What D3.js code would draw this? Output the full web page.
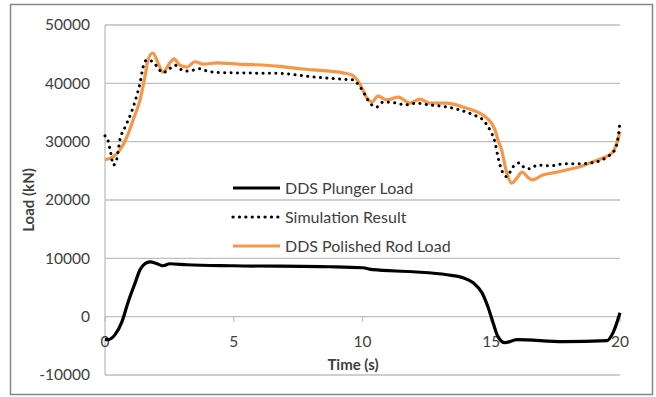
<!doctype html>
<html>
<head>
  <meta charset="utf8"/>
  <style>
    body { margin: 0; background: #fff; }
    text { font-family: Lato, 'Open Sans', sans-serif; fill: #404040; }
  </style>
</head>
<body>
  <svg width='656' height='397'></svg>
  <script src="https://d3js.org/d3.v7.min.js"></script>
  <script>

    // values (time in s, load in kN)
    var plungerT = [0, 0.12, 0.39, 0.66, 0.89, 1.17, 1.36, 1.55, 1.75, 2.02, 2.25, 2.52, 3.18, 4.97,
                    8.74, 10.0, 10.4, 11.96, 13.28, 13.9, 14.3, 14.64, 14.87, 15.07, 15.26, 15.53,
                    16.0, 17.8, 19.5, 19.73, 20];
    var plungerLoad = [-3900, -3950, -3080, -860, 2400, 5800, 8050, 9070, 9400, 9070, 8730, 9070, 8900, 8730,
                       8560, 8390, 8050, 7700, 7190, 6680, 5800, 4100, 1700, -1030, -3420, -4450,
                       -3940, -4280, -4100, -2740, 680];

    var simT = [0, 0.07, 0.2, 0.33, 0.45, 0.58, 0.78, 1.03, 1.22, 1.36, 1.48, 1.62, 1.86, 2.06, 2.25, 2.45,
                2.72, 2.98, 3.22, 3.69, 3.96, 4.27, 4.97, 6.8, 8.08, 9.24, 9.63, 9.9, 10.1, 10.29, 10.56,
                10.8, 11.34, 11.65, 12.1, 12.6, 13.28, 13.8, 14.3, 14.68, 14.95, 15.15, 15.26, 15.4,
                15.6, 15.73, 15.85, 16.1, 16.3, 16.5, 16.8, 17.3, 17.8, 18.45, 19.1, 19.5, 19.8, 19.94, 20];
    var simLoad = [31000, 30800, 28600, 26000, 26900, 30300, 32500, 35100, 37700, 40000, 42800, 44000, 43700,
                   42600, 41800, 42300, 43100, 42300, 42100, 42500, 42100, 41900, 41800, 41700, 41100, 40700,
                   40600, 39400, 38000, 36600, 35950, 36800, 36600, 36300, 36600, 36300, 35950, 35400, 34600,
                   33700, 32000, 29800, 27400, 25150, 24000, 24800, 25700, 26350, 25500, 25350, 26000, 25850,
                   26200, 26200, 26550, 27400, 28600, 31150, 33400];

    var rodT = [0, 0.31, 0.58, 0.85, 1.09, 1.36, 1.55, 1.67, 1.86, 2.06, 2.25, 2.52, 2.68, 2.91, 3.18, 3.5,
                3.81, 4.35, 5.17, 6.8, 7.18, 8.08, 9.24, 9.6, 9.79, 9.98, 10.17, 10.37, 10.6, 10.95, 11.38,
                11.84, 12.23, 12.6, 13.28, 13.9, 14.45, 14.83, 15.15, 15.26, 15.4, 15.6, 15.8, 16.0, 16.2,
                16.4, 16.6, 17.0, 17.4, 17.9, 18.45, 18.95, 19.34, 19.7, 19.88, 20];
    var rodLoad = [26900, 27400, 28600, 30800, 33700, 37150, 41100, 44000, 45200, 43500, 41900, 43500, 44200,
                   43100, 42800, 43700, 43300, 43500, 43300, 42900, 42700, 42300, 41800, 41400, 40600, 39200,
                   37500, 36800, 37800, 37150, 37650, 36600, 37300, 36600, 36600, 35950, 35100, 34050, 32000,
                   30300, 28600, 24650, 22900, 23800, 24800, 24000, 23450, 24300, 24650, 25150, 25700, 26550,
                   27200, 28100, 29800, 31700];

    var xTicks = [0, 5, 10, 15, 20];
    var yTicks = [-10000, 0, 10000, 20000, 30000, 40000, 50000];

    var svg = d3.select('svg');

    // outer chart frame
    svg.append('rect')
       .attr('x', 10.5).attr('y', 4.5)
       .attr('width', 642).attr('height', 390)
       .attr('fill', '#fff')
       .attr('stroke', '#868686')
       .attr('stroke-width', 1.5);

    var x = d3.scaleLinear().domain([0, 20]).range([105, 620]);
    var y = d3.scaleLinear().domain([-10000, 50000]).range([375, 25]);

    // gridlines
    svg.append('g')
       .selectAll('line')
       .data(yTicks)
       .join('line')
         .attr('x1', x(0)).attr('x2', x(20))
         .attr('y1', function(d) { return y(d); })
         .attr('y2', function(d) { return y(d); })
         .attr('stroke', '#bfbfbf')
         .attr('stroke-width', 1.3);

    // y axis line
    svg.append('line')
       .attr('x1', x(0)).attr('x2', x(0))
       .attr('y1', y(50000)).attr('y2', y(-10000))
       .attr('stroke', '#bfbfbf')
       .attr('stroke-width', 1.3);

    // y tick labels
    svg.append('g')
       .selectAll('text')
       .data(yTicks)
       .join('text')
         .attr('x', 90)
         .attr('y', function(d) { return y(d); })
         .attr('dy', '0.35em')
         .attr('text-anchor', 'end')
         .style('font-size', '15.5px')
         .text(function(d) { return d; });

    // x axis sits on load = 0
    svg.append('g')
       .selectAll('line')
       .data(xTicks)
       .join('line')
         .attr('x1', function(d) { return x(d); })
         .attr('x2', function(d) { return x(d); })
         .attr('y1', y(0)).attr('y2', y(0) + 5)
         .attr('stroke', '#bfbfbf')
         .attr('stroke-width', 1.3);

    svg.append('g')
       .selectAll('text')
       .data(xTicks)
       .join('text')
         .attr('x', function(d) { return x(d); })
         .attr('y', 342)
         .attr('dy', '0.35em')
         .attr('text-anchor', 'middle')
         .style('font-size', '15.5px')
         .text(function(d) { return d; });

    // axis titles
    svg.append('text')
       .attr('x', 353).attr('y', 365)
       .attr('dy', '0.35em')
       .attr('text-anchor', 'middle')
       .style('font-size', '15px')
       .style('font-weight', 'bold')
       .text('Time (s)');

    svg.append('text')
       .attr('transform', 'translate(29,200) rotate(-90)')
       .attr('dy', '0.35em')
       .attr('text-anchor', 'middle')
       .style('font-size', '15px')
       .style('font-weight', 'bold')
       .text('Load (kN)');

    var line = d3.line()
                 .x(function(d) { return x(d[0]); })
                 .y(function(d) { return y(d[1]); })
                 .curve(d3.curveMonotoneX);

    function pairs(ts, vs) {
      return ts.map(function(t, i) { return [t, vs[i]]; });
    }

    svg.append('path')
       .datum(pairs(plungerT, plungerLoad))
       .attr('fill', 'none')
       .attr('stroke', '#000')
       .attr('stroke-width', 3.2)
       .attr('stroke-linejoin', 'round')
       .attr('d', line);

    svg.append('path')
       .datum(pairs(rodT, rodLoad))
       .attr('fill', 'none')
       .attr('stroke', '#f79646')
       .attr('stroke-width', 3.2)
       .attr('stroke-linejoin', 'round')
       .attr('d', line);

    svg.append('path')
       .datum(pairs(simT, simLoad))
       .attr('fill', 'none')
       .attr('stroke', '#000')
       .attr('stroke-width', 3)
       .attr('stroke-linecap', 'round')
       .attr('stroke-dasharray', '0.1 6.3')
       .attr('d', line);

    // legend
    var legend = [
      {name: 'DDS Plunger Load', color: '#000', dash: null},
      {name: 'Simulation Result', color: '#000', dash: '0.1 6.3'},
      {name: 'DDS Polished Rod Load', color: '#f79646', dash: null}
    ];

    var lg = svg.append('g')
                .selectAll('g')
                .data(legend)
                .join('g')
                  .attr('transform', function(d, i) { return 'translate(233,' + (188 + i * 29) + ')'; });

    lg.append('line')
      .attr('x1', 0).attr('x2', 47)
      .attr('stroke', function(d) { return d.color; })
      .attr('stroke-width', 3.2)
      .attr('stroke-linecap', function(d) { return d.dash ? 'round' : 'butt'; })
      .attr('stroke-dasharray', function(d) { return d.dash; });

    lg.append('text')
      .attr('x', 52)
      .attr('dy', '0.35em')
      .style('font-size', '16px')
      .text(function(d) { return d.name; });

  </script>
</body>
</html>
